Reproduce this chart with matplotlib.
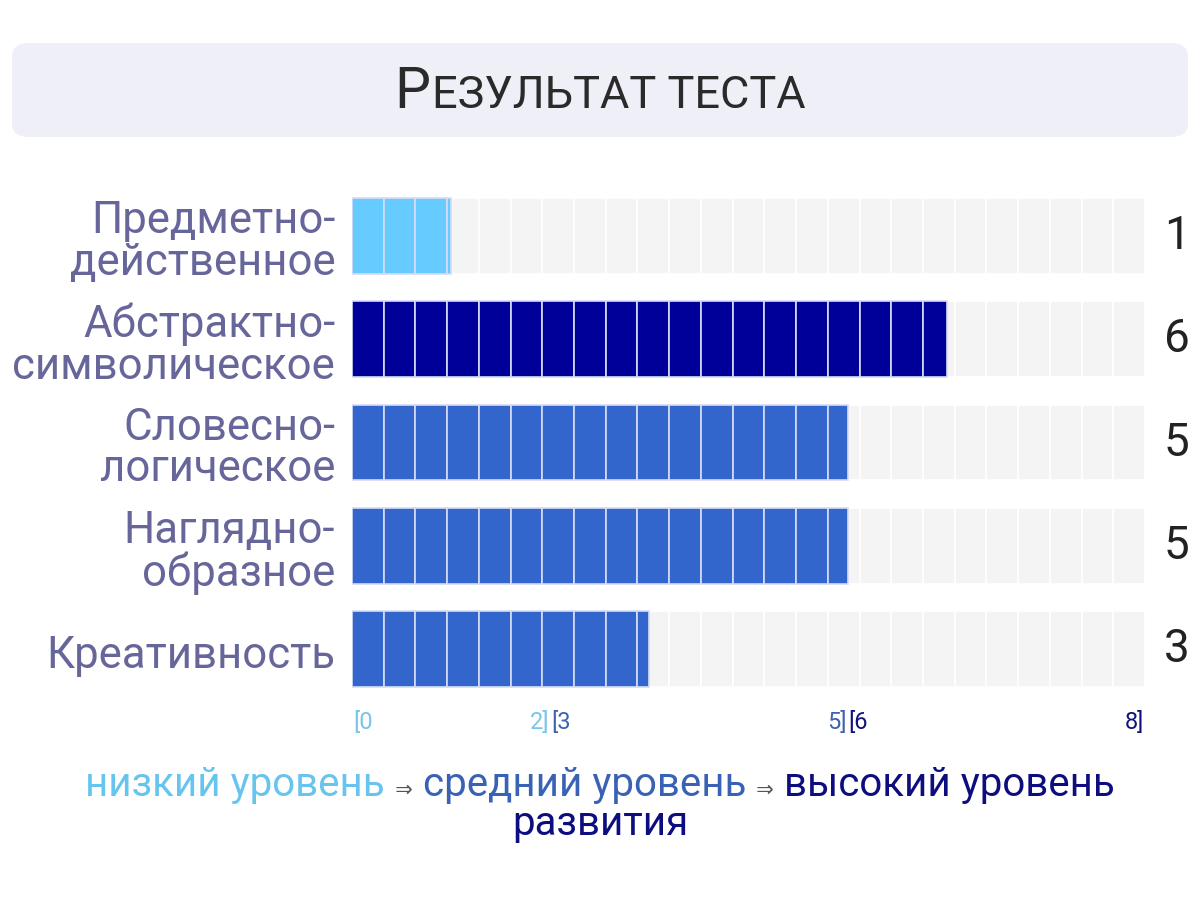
import matplotlib.pyplot as plt
import numpy as np
from matplotlib.patches import FancyBboxPatch

categories = ["Предметно-\nдейственное", "Абстрактно-\nсимволическое",
              "Словесно-\nлогическое", "Наглядно-\nобразное", "Креативность"]
scores = [1, 6, 5, 5, 3]
scale_max = 8
n_cells = 25

level_names = ["низкий уровень", "средний уровень", "высокий уровень"]
level_lo = [0, 3, 6]
level_hi = [2, 5, 8]
level_edges = [0, 2, 5, 8]
bar_colors = ["#66ccff", "#3366cc", "#000099"]
tick_colors = ["#77c6ea", "#3d63b0", "#12127a"]
legend_colors = ["#66c4ee", "#3a62b4", "#0d0d80"]

plt.rcParams['font.family'] = ['Roboto', 'DejaVu Sans']

W, H = 1200, 901
fig = plt.figure(figsize=(12, 9.01), dpi=100)

def fx(px):
    return px / W

def fy(py):
    return 1 - py / H

# title box
box = FancyBboxPatch((fx(12), fy(137)), fx(1176), (137 - 43) / H,
                     boxstyle="round,pad=0,rounding_size=0.015",
                     transform=fig.transFigure, fc="#eeeff7", ec="none")
fig.patches.append(box)

# bars
ax = fig.add_axes([fx(352), fy(701), fx(1145 - 352), (701 - 184) / H])
ax.set_xlim(0, scale_max)
ax.set_ylim(len(categories) - 0.5, -0.5)
ax.axis('off')

cell = scale_max / n_cells
bar_h = 0.735

def level_of(v):
    for i in range(3):
        if v <= level_hi[i]:
            return i
    return 2

for i, (cat, v) in enumerate(zip(categories, scores)):
    lefts = np.arange(n_cells) * cell
    ax.barh([i] * n_cells, [cell] * n_cells, left=lefts, height=bar_h,
            color="#f4f4f4", edgecolor="white", linewidth=1.2)
    c = bar_colors[level_of(v)]
    k = 0
    while k * cell < v - 1e-9:
        w = min(cell, v - k * cell)
        ax.barh(i, w, left=k * cell, height=bar_h, color=c,
                edgecolor="#d8dcf4", linewidth=1.2)
        k += 1
    ax.text(-0.17, i + 0.06, cat, ha='right', va='center', fontsize=31.5,
            color="#66669a", linespacing=0.98)
    ax.text(8.19, i, str(v), ha='left', va='center', fontsize=33, color="#222222")

# range labels under the bars
for j in range(3):
    ax.text(level_edges[j] + 0.01, 4.5 + 0.1, "[" + str(level_lo[j]), ha='left', va='top',
            fontsize=17, color=tick_colors[j])
    ax.text(level_edges[j + 1] - 0.01, 4.5 + 0.1, str(level_hi[j]) + "]", ha='right', va='top',
            fontsize=17, color=tick_colors[j])

fig.canvas.draw()
renderer = fig.canvas.get_renderer()

# title with small caps look
t1 = fig.text(0, fy(108), "Р", fontsize=41, color="#2a2a2a", ha='left', va='baseline')
t2 = fig.text(0, fy(108), "ЕЗУЛЬТАТ ТЕСТА", fontsize=32.5, color="#2a2a2a",
              ha='left', va='baseline')
w1 = t1.get_window_extent(renderer).width
w2 = t2.get_window_extent(renderer).width
x0 = 600 - (w1 + w2 + 2) / 2
t1.set_x(fx(x0))
t2.set_x(fx(x0 + w1 + 2))

# legend line
pieces = []
for j in range(3):
    pieces.append((level_names[j], legend_colors[j], 29))
    if j < 2:
        pieces.append(("  ⇒  ", "#555555", 15))
texts = []
total = 0
for s, c, fs in pieces:
    t = fig.text(0, fy(796), s, fontsize=fs, color=c, ha='left', va='baseline')
    w = t.get_window_extent(renderer).width
    texts.append((t, w))
    total += w
x = 600 - total / 2
for t, w in texts:
    t.set_x(fx(x))
    x += w
fig.text(0.5, fy(835), "развития", fontsize=29, color=legend_colors[2],
         ha='center', va='baseline')

fig.savefig("out.png", dpi=100)
